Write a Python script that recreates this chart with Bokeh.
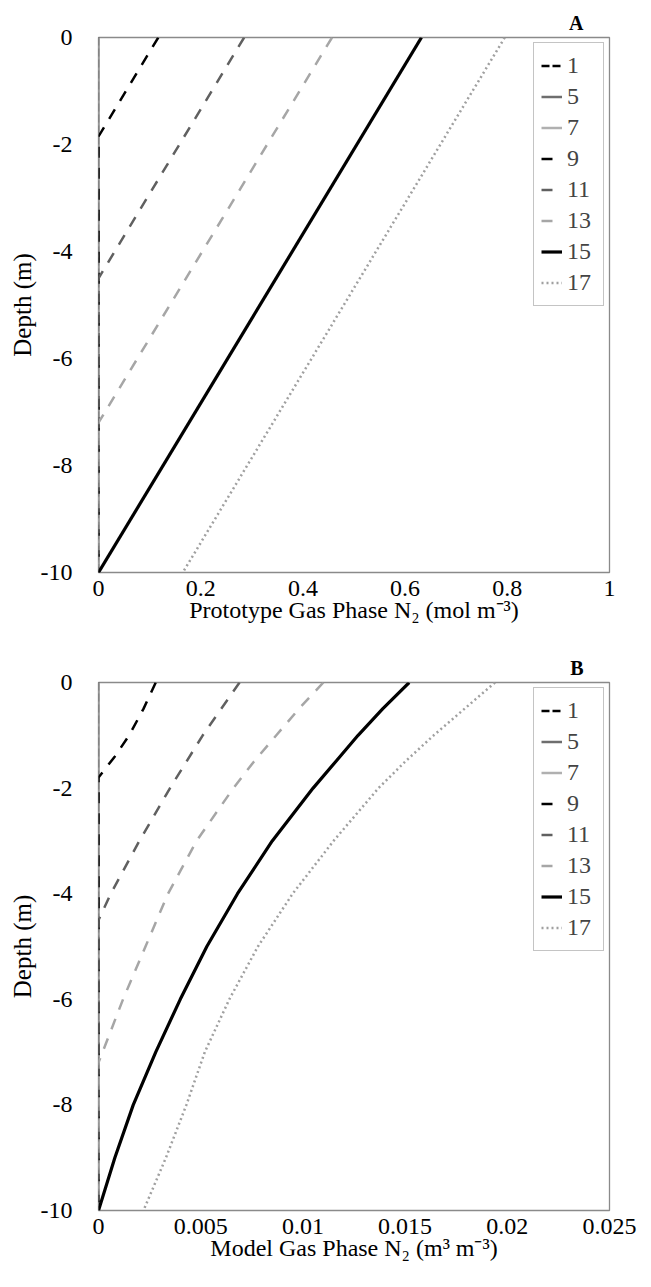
from bokeh.plotting import figure
from bokeh.models import Range1d, FixedTicker, Legend, LegendItem, Title
from bokeh.layouts import column
from bokeh.embed import file_html
from bokeh.resources import INLINE

SERIES = ["1", "5", "7", "9", "11", "13", "15", "17"]
Y_TICKS = [0, -2, -4, -6, -8, -10]

# ---- Panel A: Prototype gas phase N2 (mol m-3) ----
A_X_TICKS = [0, 0.2, 0.4, 0.6, 0.8, 1.0]
A_X_LABELS = ["0", "0.2", "0.4", "0.6", "0.8", "1"]
a_depth_1 = [0, -10]
a_val_1 = [0, 0]
a_depth_5 = [0, -10]
a_val_5 = [0, 0]
a_depth_7 = [0, -10]
a_val_7 = [0, 0]
a_depth_9 = [0, -1.85, -10]
a_val_9 = [0.117, 0, 0]
a_depth_11 = [0, -4.5, -10]
a_val_11 = [0.285, 0, 0]
a_depth_13 = [0, -7.2, -10]
a_val_13 = [0.457, 0, 0]
a_depth_15 = [0, -10]
a_val_15 = [0.632, 0]
a_depth_17 = [0, -10]
a_val_17 = [0.795, 0.165]

# ---- Panel B: Model gas phase N2 (m3 m-3) ----
B_X_TICKS = [0, 0.005, 0.01, 0.015, 0.02, 0.025]
B_X_LABELS = ["0", "0.005", "0.01", "0.015", "0.02", "0.025"]
b_depth_1 = [0, -10]
b_val_1 = [0, 0]
b_depth_5 = [0, -10]
b_val_5 = [0, 0]
b_depth_7 = [0, -10]
b_val_7 = [0, 0]
b_depth_9 = [0, -0.5, -1.0, -1.4, -1.8, -10]
b_val_9 = [0.0028, 0.0022, 0.0015, 0.0008, 0, 0]
b_depth_11 = [0, -1, -2, -3, -4, -4.5, -10]
b_val_11 = [0.0069, 0.0051, 0.0035, 0.0020, 0.0006, 0, 0]
b_depth_13 = [0, -0.5, -1, -1.5, -2, -3, -4, -5, -6, -7, -7.2, -10]
b_val_13 = [0.0110, 0.0098, 0.0087, 0.0076, 0.0066, 0.0048, 0.0034, 0.0023, 0.0012, 0.0002, 0, 0]
b_depth_15 = [0, -0.5, -1, -1.5, -2, -2.5, -3, -4, -5, -6, -7, -8, -9, -10]
b_val_15 = [0.0152, 0.0139, 0.0127, 0.0116, 0.0105, 0.0095, 0.0085, 0.0068, 0.0053, 0.0040, 0.0028, 0.0017, 0.0008, 0]
b_depth_17 = [0, -0.5, -1, -1.5, -2, -2.5, -3, -4, -5, -6, -7, -8, -9, -10]
b_val_17 = [0.0194, 0.0179, 0.0164, 0.0150, 0.0137, 0.0126, 0.0115, 0.0095, 0.0078, 0.0064, 0.0052, 0.0043, 0.0033, 0.0022]

STYLES = {
    "1": dict(color="#000000", width=2.5, dash="8 3"),
    "5": dict(color="#6e6e6e", width=2.5, dash="solid"),
    "7": dict(color="#b0b0b0", width=2.5, dash="solid"),
    "9": dict(color="#000000", width=2.5, dash="11 10"),
    "11": dict(color="#606060", width=2.5, dash="11 10"),
    "13": dict(color="#a6a6a6", width=2.5, dash="11 10"),
    "15": dict(color="#000000", width=3.2, dash="solid"),
    "17": dict(color="#a0a0a0", width=2.5, dash="2 3"),
}

FONT = "Liberation Serif, Times New Roman, serif"


def panel(data, xmax, ticks, labels, xtitle, letter, height, top, bottom):
    p = figure(width=651, height=height, output_backend="svg", toolbar_location=None,
               x_range=Range1d(0, xmax), y_range=Range1d(-10, 0),
               min_border_left=98, min_border_right=42,
               min_border_top=top, min_border_bottom=bottom)
    p.background_fill_color = "white"
    p.border_fill_color = "white"
    p.outline_line_color = "#8a8a8a"
    p.outline_line_width = 1.3
    p.xgrid.visible = False
    p.ygrid.visible = False

    items = []
    for name in SERIES:
        d, v = data[name]
        st = STYLES[name]
        r = p.line(v, d, line_color=st["color"], line_width=st["width"],
                   line_dash=st["dash"])
        items.append(LegendItem(label=name, renderers=[r]))

    for ax in (p.xaxis, p.yaxis):
        ax.axis_line_color = None
        ax.major_tick_line_color = None
        ax.minor_tick_line_color = None
        ax.major_label_text_font = FONT
        ax.major_label_text_font_style = "normal"
        ax.major_label_text_font_size = "24px"
        ax.major_label_text_color = "#000000"
        ax.axis_label_text_font = FONT
        ax.axis_label_text_font_style = "normal"
        ax.axis_label_text_color = "#000000"
    p.xaxis.axis_label_text_font_size = "24px"
    p.yaxis.axis_label_text_font_size = "25px"

    p.xaxis.ticker = FixedTicker(ticks=ticks)
    p.xaxis.major_label_overrides = {t: l for t, l in zip(ticks, labels)}
    p.xaxis.major_label_standoff = 2
    p.xaxis.axis_label = xtitle
    p.xaxis.axis_label_standoff = -2

    p.yaxis.ticker = FixedTicker(ticks=Y_TICKS)
    p.yaxis.major_label_overrides = {t: str(t) for t in Y_TICKS}
    p.yaxis.major_label_standoff = 20
    p.yaxis.axis_label = "Depth (m)"
    p.yaxis.axis_label_standoff = 2

    leg = Legend(items=items, location="top_right", margin=5,
                 border_line_color="#8a8a8a", border_line_width=1.2,
                 background_fill_color="white", background_fill_alpha=1.0,
                 label_text_font=FONT, label_text_font_size="24px",
                 glyph_width=21, glyph_height=31, label_height=31,
                 label_width=29, label_standoff=5, padding=7, spacing=0)
    p.add_layout(leg)

    t = Title(text=letter, align="right", offset=26, standoff=7,
              text_font=FONT, text_font_style="bold", text_font_size="20px",
              text_color="#000000")
    p.add_layout(t, "above")
    return p


data_a = {
    "1": (a_depth_1, a_val_1), "5": (a_depth_5, a_val_5), "7": (a_depth_7, a_val_7),
    "9": (a_depth_9, a_val_9), "11": (a_depth_11, a_val_11), "13": (a_depth_13, a_val_13),
    "15": (a_depth_15, a_val_15), "17": (a_depth_17, a_val_17),
}
data_b = {
    "1": (b_depth_1, b_val_1), "5": (b_depth_5, b_val_5), "7": (b_depth_7, b_val_7),
    "9": (b_depth_9, b_val_9), "11": (b_depth_11, b_val_11), "13": (b_depth_13, b_val_13),
    "15": (b_depth_15, b_val_15), "17": (b_depth_17, b_val_17),
}

pa = panel(data_a, 1.0, A_X_TICKS, A_X_LABELS,
           "Prototype Gas Phase N\u2082 (mol m\u207b\u00b3)", "A", 640, 37, 68)
pb = panel(data_b, 0.025, B_X_TICKS, B_X_LABELS,
           "Model Gas Phase N\u2082 (m\u00b3 m\u207b\u00b3)", "B", 646, 42, 76)

layout = column(pa, pb, spacing=0)
open("out.html", "w").write(file_html(layout, INLINE))
